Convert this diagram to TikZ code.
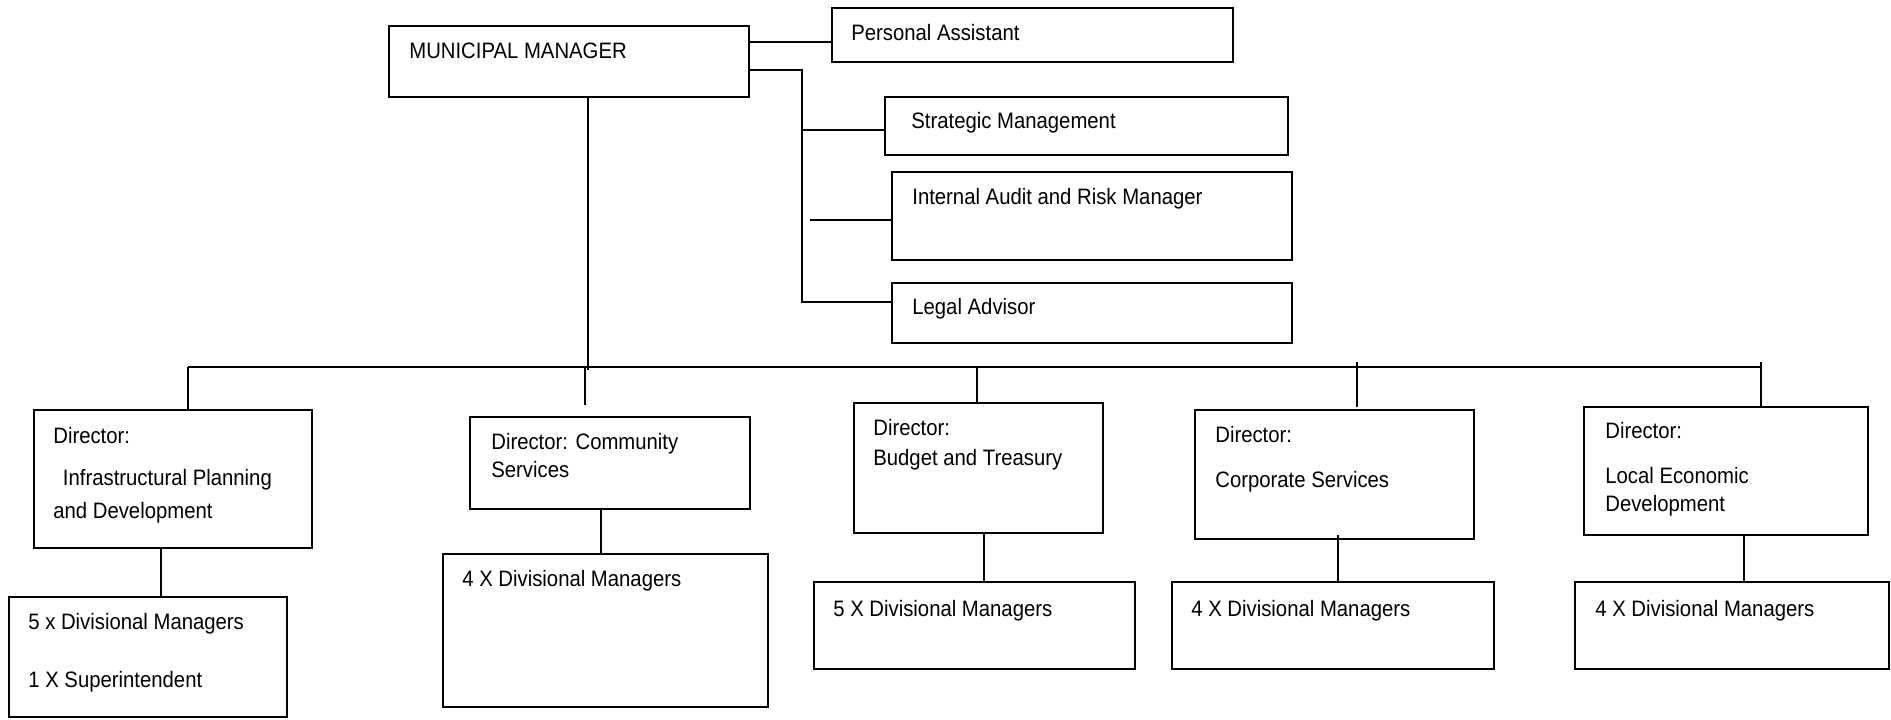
\documentclass[tikz,border=0pt]{standalone}
\usepackage{fontspec}
\setmainfont{Liberation Sans}[FakeStretch=0.91]
\usetikzlibrary{calc}

\tikzset{
    box/.style={draw, line width=0.4mm, inner sep=0pt},
    boxsize/.style 2 args={minimum width=#1*0.2mm, minimum height=#2*0.2mm},
    txt/.style={anchor=base west, inner sep=0pt, font=\fontsize{12.7pt}{15pt}\selectfont},
    link/.style={line width=0.22mm}
}

\begin{document}
\begin{tikzpicture}[x=0.2mm, y=-0.2mm]
        \useasboundingbox (0,0) rectangle (1891,719);
        % top level boxes
        \node [box, boxsize={360}{71}] (mm) at (569,61.5) {};
        \node [box, boxsize={401}{54}] (pa) at (1032.5,35) {};
        \node [box, boxsize={403}{58}] (sm) at (1086.5,126) {};
        \node [box, boxsize={400}{88}] (ia) at (1092,216) {};
        \node [box, boxsize={400}{60}] (la) at (1092,313) {};
        % directors
        \node [box, boxsize={278}{138}] (d1) at (173,479) {};
        \node [box, boxsize={280}{92}] (d2) at (610,463) {};
        \node [box, boxsize={249}{130}] (d3) at (978.5,468) {};
        \node [box, boxsize={279}{129}] (d4) at (1334.5,474.5) {};
        \node [box, boxsize={284}{128}] (d5) at (1726,471) {};
        % divisional managers
        \node [box, boxsize={278}{120}] (s1) at (148,657) {};
        \node [box, boxsize={325}{153}] (s2) at (605.5,630.5) {};
        \node [box, boxsize={321}{87}] (s3) at (974.5,625.5) {};
        \node [box, boxsize={322}{87}] (s4) at (1333,625.5) {};
        \node [box, boxsize={314}{87}] (s5) at (1732,625.5) {};

        % texts
        \node [txt] (tmm) at (409,58) {MUNICIPAL MANAGER};
        \node [txt] (tpa) at (851,40) {Personal Assistant};
        \node [txt] (tsm) at (911,128) {Strategic Management};
        \node [txt] (tia) at (912,204) {Internal Audit and Risk Manager};
        \node [txt] (tla) at (912,314) {Legal Advisor};
        \node [txt] (td1a) at (53,443) {Director:};
        \node [txt] (td1b) at (57,485) {\ Infrastructural Planning};
        \node [txt] (td1c) at (53,518) {and Development};
        \node [txt] (ts1a) at (28,629) {5 x Divisional Managers};
        \node [txt] (ts1b) at (28,687) {1 X Superintendent};
        \node [txt] (td2a) at (491,449) {Director: Community};
        \node [txt] (td2b) at (491,477) {Services};
        \node [txt] (ts2) at (462,586) {4 X Divisional Managers};
        \node [txt] (td3a) at (873,435) {Director:};
        \node [txt] (td3b) at (873,465) {Budget and Treasury};
        \node [txt] (ts3) at (833,616) {5 X Divisional Managers};
        \node [txt] (td4a) at (1215,442) {Director:};
        \node [txt] (td4b) at (1215,487) {Corporate Services};
        \node [txt] (ts4) at (1191,616) {4 X Divisional Managers};
        \node [txt] (td5a) at (1605,438) {Director:};
        \node [txt] (td5b) at (1605,483) {Local Economic};
        \node [txt] (td5c) at (1605,511) {Development};
        \node [txt] (ts5) at (1595,616) {4 X Divisional Managers};

        % staff lines on the right of the manager
        \coordinate (r) at (802,70);
        \draw [link] (mm.east |- 0,42) -- (pa.west |- 0,42);
        \draw [link] (mm.east |- r) -- (r) -- (r |- 0,302) -- (la.west |- 0,302);
        \draw [link] (r |- 0,130) -- (sm.west |- 0,130);
        \draw [link] (810,220) -- (ia.west |- 0,220);

        % bus to the directors
        \coordinate (b1) at (188,367);
        \coordinate (b5) at (1761,367);
        \draw [link] (588,0 |- mm.south) -- (588,370);
        \draw [link] (b1) -- (b5);
        \draw [link] (b1) -- (b1 |- d1.north);
        \draw [link] (585,367) -- (585,405);
        \draw [link] (977,367) -- (977,0 |- d3.north);
        \draw [link] (1357,362) -- (1357,407);
        \draw [link] (1761,362) -- (1761,0 |- d5.north);

        % directors to divisional managers
        \draw [link] (161,0 |- d1.south) -- (161,0 |- s1.north);
        \draw [link] (601,0 |- d2.south) -- (601,0 |- s2.north);
        \draw [link] (984,0 |- d3.south) -- (984,0 |- s3.north);
        \draw [link] (1338,535) -- (1338,0 |- s4.north);
        \draw [link] (1744,0 |- d5.south) -- (1744,0 |- s5.north);
\end{tikzpicture}
\end{document}
